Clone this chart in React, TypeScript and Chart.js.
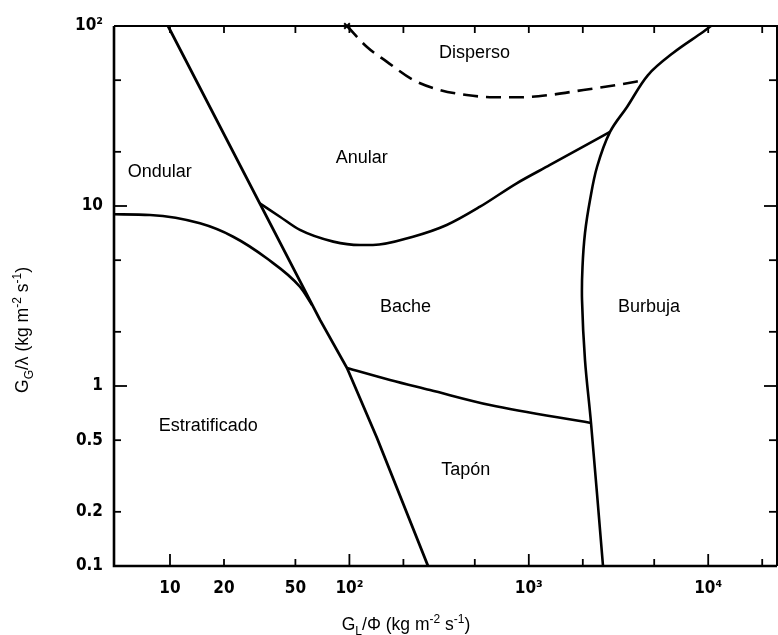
import React, { useEffect, useRef } from 'react';
import { Chart, registerables } from 'chart.js';

Chart.register(...registerables);

// ---- axis ranges ----
const X_MIN = 4.874;
const X_MAX = 24180;
const Y_MIN = 0.1;
const Y_MAX = 100;

// ---- boundary curves (G_L/Φ , G_G/λ) ----
const wavyStratX = [4.874, 7.74, 14.7, 22.5, 34.6, 53.0, 61.9];
const wavyStratY = [8.99, 8.91, 8.01, 6.75, 5.12, 3.56, 2.82];

const stratLineX = [9.75, 68.6, 97.0, 142.5, 274.3];
const stratLineY = [100, 2.33, 1.259, 0.514, 0.1];

const annularSlugX = [31.5, 41.0, 53.0, 81.3, 114.6, 135.3, 226.2, 348.6, 534.6, 856, 1312, 2836];
const annularSlugY = [10.39, 8.72, 7.36, 6.34, 6.07, 6.07, 6.75, 7.84, 9.91, 13.37, 16.9, 25.8];

const slugPlugX = [97.0, 168.4, 281.4, 607.7, 2222];
const slugPlugY = [1.259, 1.08, 0.95, 0.784, 0.623];

const bubbleX = [10366, 9354, 6366, 4617, 3527, 2836, 2400, 2194, 2057, 1992, 1980, 2057, 2222, 2592];
const bubbleY = [100, 92.6, 70.8, 53.4, 35.5, 25.8, 16.47, 10.8, 7.08, 4.58, 3.0, 1.394, 0.623, 0.1];

const dispersedX = [97.0, 124.9, 161.4, 227.1, 319.9, 450.6, 634.1, 893.3, 1313, 2013, 3090, 4443];
const dispersedY = [100, 76.7, 63.4, 50.1, 44.1, 41.4, 40.2, 40.2, 41.4, 44.1, 47.0, 50.1];

// ---- region names and their anchor values ----
const regionNames = ['Ondular', 'Anular', 'Disperso', 'Bache', 'Burbuja', 'Estratificado', 'Tapón'];
const regionX = [8.76, 117.1, 498, 205.5, 4677, 16.35, 445.6];
const regionY = [15.4, 18.4, 71.1, 2.76, 2.76, 0.602, 0.3415];

// ---- ticks ----
const xLabelVals = [10, 20, 50, 100, 1000, 10000];
const xLabelText = ['10', '20', '50', '10²', '10³', '10⁴'];
const xMajor = [10, 100, 1000, 10000];
const xMinor = [20, 50, 200, 500, 2000, 5000, 20000];

const yLabelVals = [100, 10, 1, 0.5, 0.2, 0.1];
const yLabelText = ['10²', '10', '1', '0.5', '0.2', '0.1'];
const yMajor = [10, 1];
const yMinor = [50, 20, 5, 2, 0.5, 0.2];

const xTitle: [string, number][] = [['G', 0], ['L', 1], ['/Φ (kg m', 0], ['-2', 2], [' s', 0], ['-1', 2], [')', 0]];
const yTitle: [string, number][] = [['G', 0], ['G', 1], ['/λ (kg m', 0], ['-2', 2], [' s', 0], ['-1', 2], [')', 0]];

const FAM = '"Liberation Sans", Arial, Helvetica, sans-serif';
const TICK_FAM = '"Liberation Sans Narrow", "DejaVu Sans Condensed", "Liberation Sans", sans-serif';

function zip(xs: number[], ys: number[]) {
  return xs.map((x, i) => ({ x, y: ys[i] }));
}

function drawRich(ctx: CanvasRenderingContext2D, parts: [string, number][], cx: number, cy: number, size: number) {
  const small = Math.round(size * 0.68);
  let w = 0;
  parts.forEach(([t, k]) => {
    ctx.font = `${k ? small : size}px ${FAM}`;
    w += ctx.measureText(t).width;
  });
  let x = cx - w / 2;
  ctx.textAlign = 'left';
  ctx.textBaseline = 'alphabetic';
  const base = cy + size * 0.36;
  parts.forEach(([t, k]) => {
    ctx.font = `${k ? small : size}px ${FAM}`;
    const dy = k === 1 ? size * 0.28 : k === 2 ? -size * 0.42 : 0;
    ctx.fillText(t, x, base + dy);
    x += ctx.measureText(t).width;
  });
}

const overlay = {
  id: 'overlay',
  afterDraw(chart: any) {
    const { ctx, chartArea: a, scales } = chart;
    const xs = scales.x;
    const ys = scales.y;
    ctx.save();
    ctx.strokeStyle = '#000';
    ctx.fillStyle = '#000';
    ctx.lineCap = 'butt';
    // frame
    ctx.lineWidth = 2.6;
    ctx.beginPath();
    ctx.moveTo(a.left, a.top);
    ctx.lineTo(a.left, a.bottom);
    ctx.lineTo(a.right, a.bottom);
    ctx.stroke();
    ctx.lineWidth = 2;
    ctx.beginPath();
    ctx.moveTo(a.left, a.top);
    ctx.lineTo(a.right, a.top);
    ctx.lineTo(a.right, a.bottom);
    ctx.stroke();

    const seg = (x1: number, y1: number, x2: number, y2: number) => {
      ctx.beginPath();
      ctx.moveTo(x1, y1);
      ctx.lineTo(x2, y2);
      ctx.stroke();
    };
    ctx.lineWidth = 1.8;
    xMajor.forEach((v) => {
      const p = xs.getPixelForValue(v);
      seg(p, a.bottom, p, a.bottom - 12);
      seg(p, a.top, p, a.top + 7);
    });
    xMinor.forEach((v) => {
      const p = xs.getPixelForValue(v);
      seg(p, a.bottom, p, a.bottom - 7);
      seg(p, a.top, p, a.top + 7);
    });
    yMajor.forEach((v) => {
      const p = ys.getPixelForValue(v);
      seg(a.left, p, a.left + 13, p);
      seg(a.right, p, a.right - 13, p);
    });
    yMinor.forEach((v) => {
      const p = ys.getPixelForValue(v);
      seg(a.left, p, a.left + 7, p);
      seg(a.right, p, a.right - 8, p);
    });

    // region labels
    ctx.font = `18px ${FAM}`;
    ctx.textAlign = 'center';
    ctx.textBaseline = 'middle';
    regionNames.forEach((n, i) => {
      ctx.fillText(n, xs.getPixelForValue(regionX[i]), ys.getPixelForValue(regionY[i]));
    });

    // axis titles
    drawRich(ctx, xTitle, 406, 624, 17.5);
    ctx.save();
    ctx.translate(22, 330);
    ctx.rotate(-Math.PI / 2);
    drawRich(ctx, yTitle, 0, 0, 17.5);
    ctx.restore();
    ctx.restore();
  },
};

export default function App() {
  const ref = useRef<HTMLCanvasElement | null>(null);

  useEffect(() => {
    if (!ref.current) return;
    const line = (xs: number[], ys: number[], extra: any = {}) => ({
      data: zip(xs, ys),
      showLine: true,
      borderColor: '#000',
      backgroundColor: '#000',
      borderWidth: 2.6,
      pointRadius: 0,
      tension: 0.4,
      ...extra,
    });
    const chart = new Chart(ref.current, {
      type: 'scatter',
      data: {
        datasets: [
          line(wavyStratX, wavyStratY, { cubicInterpolationMode: 'monotone' }),
          line(stratLineX, stratLineY, { tension: 0, borderWidth: 2.8 }),
          line(annularSlugX, annularSlugY, { cubicInterpolationMode: 'monotone' }),
          line(slugPlugX, slugPlugY, { cubicInterpolationMode: 'monotone' }),
          line(bubbleX, bubbleY, { tension: 0.35 }),
          line(dispersedX, dispersedY, {
            cubicInterpolationMode: 'monotone',
            borderDash: [15, 8],
            pointStyle: 'crossRot',
            pointRadius: (c: any) => (c.dataIndex === 0 ? 4 : 0),
            pointBorderWidth: 2,
            clip: false,
          }),
        ],
      },
      options: {
        animation: false,
        responsive: false,
        events: [],
        layout: { autoPadding: false, padding: { top: 26, right: 1, left: 0, bottom: 0 } },
        plugins: { legend: { display: false }, tooltip: { enabled: false } },
        scales: {
          x: {
            type: 'logarithmic',
            position: 'bottom',
            min: X_MIN,
            max: X_MAX,
            grid: { display: false, drawTicks: false },
            border: { display: false },
            ticks: {
              autoSkip: false,
              maxRotation: 0,
              padding: 12,
              color: '#000',
              font: { family: TICK_FAM, size: 17, weight: 'bold' },
              callback: (v: any) => {
                const i = xLabelVals.indexOf(Number(v));
                return i >= 0 ? xLabelText[i] : '';
              },
            },
            afterBuildTicks: (s: any) => {
              s.ticks = xLabelVals.map((v) => ({ value: v }));
            },
            afterFit: (s: any) => {
              s.height = 69;
              s.paddingLeft = 0;
              s.paddingRight = 0;
            },
          },
          y: {
            type: 'logarithmic',
            position: 'left',
            min: Y_MIN,
            max: Y_MAX,
            grid: { display: false, drawTicks: false },
            border: { display: false },
            ticks: {
              autoSkip: false,
              padding: 11,
              color: '#000',
              font: { family: TICK_FAM, size: 17, weight: 'bold' },
              callback: (v: any) => {
                const i = yLabelVals.indexOf(Number(v));
                return i >= 0 ? yLabelText[i] : '';
              },
            },
            afterBuildTicks: (s: any) => {
              s.ticks = yLabelVals.map((v) => ({ value: v }));
            },
            afterFit: (s: any) => {
              s.width = 114;
              s.paddingTop = 0;
              s.paddingBottom = 0;
            },
          },
        },
      },
      plugins: [overlay],
    } as any);
    return () => chart.destroy();
  }, []);

  return (
    <div style={{ position: 'fixed', left: 0, top: 0, width: 778, height: 635, background: '#fff' }}>
      <canvas ref={ref} width={778} height={635} style={{ display: 'block', width: 778, height: 635 }} />
    </div>
  );
}
